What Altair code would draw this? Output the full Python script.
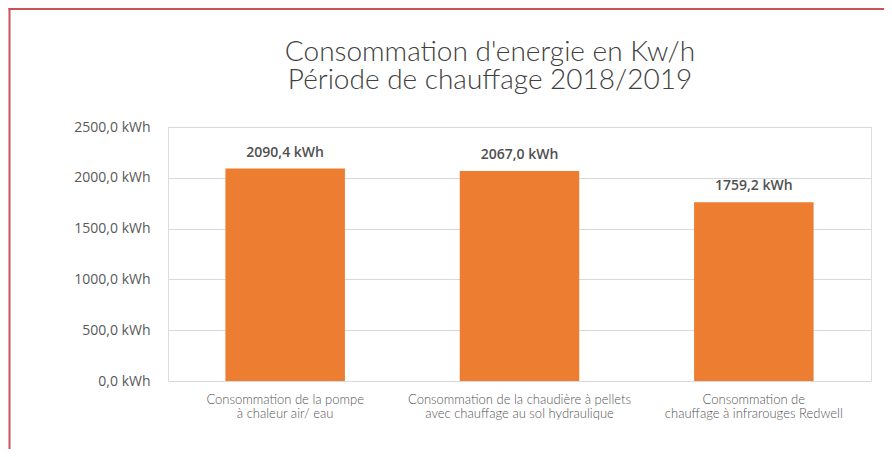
import altair as alt
import pandas as pd

categories = [
    "Consommation de la pompe\nà chaleur air/ eau",
    "Consommation de la chaudière à pellets\navec chauffage au sol hydraulique",
    "Consommation de\nchauffage à infrarouges Redwell",
]
values = [2090.4, 2067.0, 1759.2]
y_ticks = [0, 500, 1000, 1500, 2000, 2500]
title_lines = ["Consommation d'energie en Kw/h", "Période de chauffage 2018/2019"]

df = pd.DataFrame({"cat": categories, "val": values})

y_scale = alt.Scale(domain=[0, 2500])

x = alt.X(
    "cat:N",
    sort=categories,
    title=None,
    scale=alt.Scale(paddingInner=0.49, paddingOuter=0.245),
    axis=alt.Axis(
        labelAngle=0,
        labelExpr="split(datum.label, '\\n')",
        labelFont="Lato",
        labelFontWeight=300,
        labelFontSize=13,
        labelColor="#555555",
        labelLineHeight=14,
        labelPadding=12,
        ticks=False,
        domain=False,
        grid=False,
        labelLimit=400,
    ),
)
y = alt.Y(
    "val:Q",
    title=None,
    scale=y_scale,
    axis=alt.Axis(
        values=y_ticks,
        labelExpr="replace(format(datum.value, '.1f'), '.', ',') + ' kWh'",
        labelFont="Open Sans",
        labelFontSize=14,
        labelColor="#595959",
        labelPadding=18,
        ticks=False,
        domain=False,
        gridColor="#d9d9d9",
        gridWidth=1,
    ),
)

bars = alt.Chart(df).mark_bar(color="#ED7D31").encode(x=x, y=y)

labels = (
    alt.Chart(df)
    .transform_calculate(lbl="replace(format(datum.val, '.1f'), '.', ',') + ' kWh'")
    .mark_text(
        font="Open Sans",
        fontSize=14,
        fontWeight=600,
        color="#505050",
        baseline="bottom",
        dy=-9,
    )
    .encode(x=alt.X("cat:N", sort=categories), y=y, text="lbl:N")
)


def title_line(text, ypos):
    return (
        alt.Chart(pd.DataFrame({"t": [text]}))
        .mark_text(
            font="Lato",
            fontWeight=300,
            fontSize=28,
            color="#404040",
            align="center",
            baseline="middle",
        )
        .encode(x=alt.value(322), y=alt.value(ypos), text="t:N")
    )


title1 = title_line(title_lines[0], -74)
title2 = title_line(title_lines[1], -46)

frame_df = pd.DataFrame({"b": [0]})
border_left = alt.Chart(frame_df).mark_rule(color="#c8545a", strokeWidth=2).encode(
    x=alt.value(-158.5), y=alt.value(-119), y2=alt.value(322)
)
border_top = alt.Chart(frame_df).mark_rule(color="#c8545a", strokeWidth=2).encode(
    x=alt.value(-159.5), x2=alt.value(716), y=alt.value(-118)
)

main = alt.layer(bars, labels)

chart = (
    alt.layer(main, title1, title2, border_left, border_top)
    .properties(
        width=703,
        height=254,
        autosize=alt.AutoSizeParams(type="none"),
        padding={"left": 160, "top": 119, "right": 13, "bottom": 68},
    )
    .configure_view(strokeWidth=0, stroke="transparent")
    .configure(background="white")
)

chart.save("out.html", embed_options={"renderer": "svg", "actions": False})
